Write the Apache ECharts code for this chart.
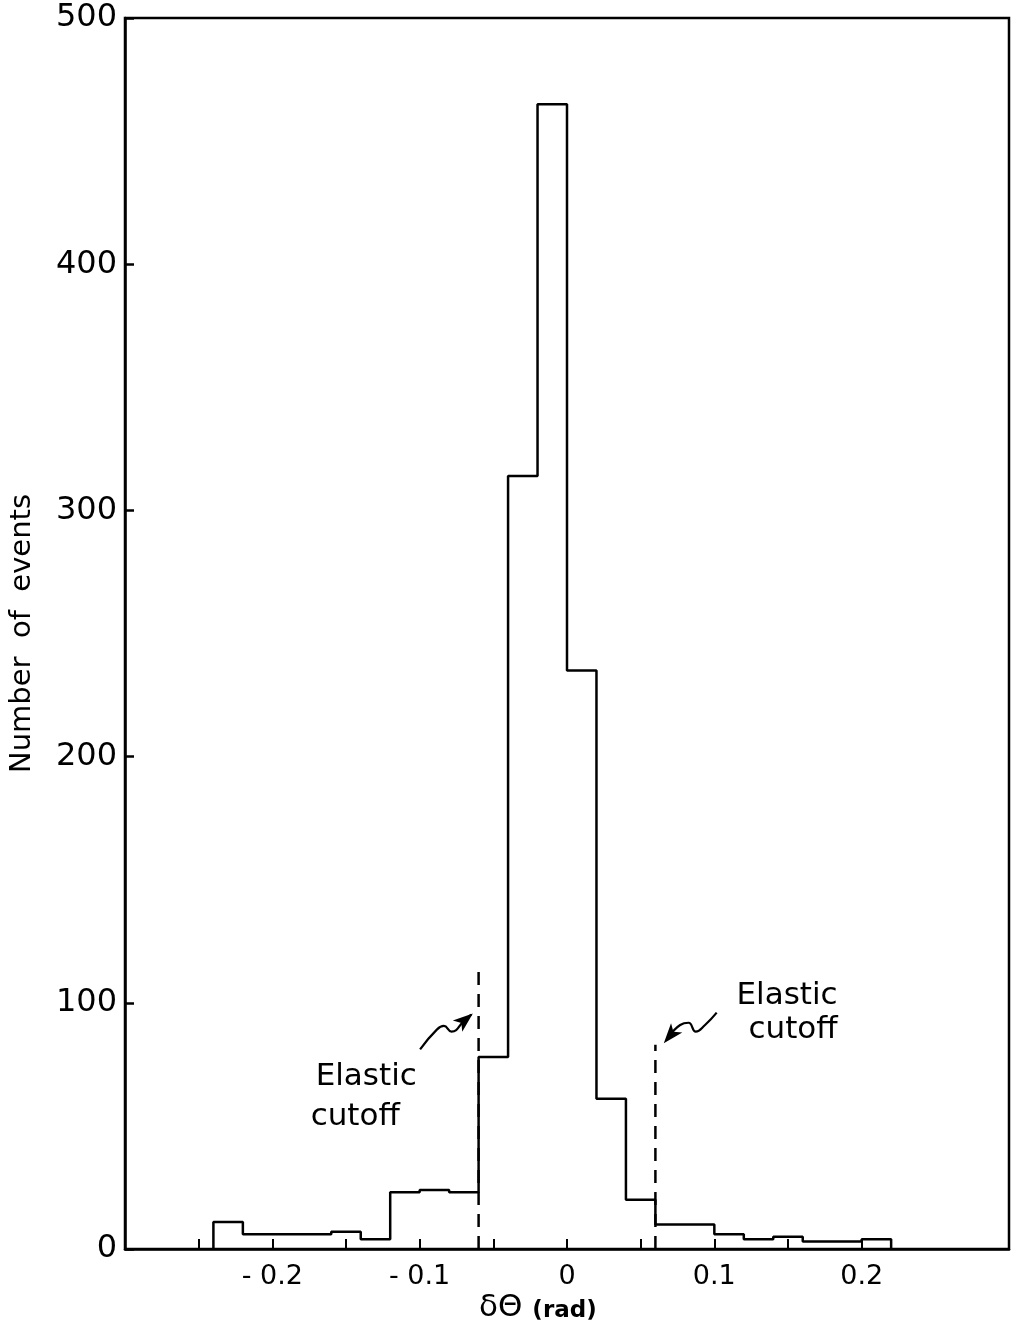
<!DOCTYPE html>
<html>
<head>
<meta charset="utf-8">
<script src="https://cdn.jsdelivr.net/npm/echarts@6/dist/echarts.min.js"></script>
<style>
html,body{margin:0;padding:0;background:#fff;}
#chart{width:1011px;height:1326px;}
</style>
</head>
<body>
<div id="chart"></div>
<script>
// Histogram bin edges (rad) and counts per bin
var binEdges = [-0.24,-0.22,-0.20,-0.18,-0.16,-0.14,-0.12,-0.10,-0.08,-0.06,-0.04,-0.02,0.00,0.02,0.04,0.06,0.08,0.10,0.12,0.14,0.16,0.18,0.20,0.22];
var counts   = [11,6,6,6,7,4,23,24,23,78,314,465,235,61,20,10,10,6,4,5,3,3,4];

// Axis ticks / labels
var xTickValues  = [-0.25,-0.2,-0.15,-0.1,-0.05,0,0.05,0.1,0.15,0.2];
var xLabelValues = [-0.2,-0.1,0,0.1,0.2];

// Elastic cutoff markers: [x, top of dashed line]
var cutoffLeft  = [-0.06, 114];
var cutoffRight = [0.06, 83];

// Annotation arrows (squiggles, in data units) and arrowheads [x, y, rotation]
var arrowLeftPath  = [[-0.0997,81.1],[-0.0885,89.0],[-0.0836,90.6],[-0.0784,88.3],[-0.0694,93.0],[-0.0650,95.2]];
var arrowRightPath = [[0.1016,96.0],[0.0937,91.0],[0.0874,88.3],[0.0825,91.9],[0.0768,91.0],[0.0690,86.0]];
var arrowHeads = [[-0.0639,95.7,-50],[0.0657,83.6,140]];

// Annotation texts
var annotTexts = [
  {text:'Elastic', x:-0.1706, y:69.9, align:'left'},
  {text:'cutoff',  x:-0.1740, y:53.6, align:'left'},
  {text:'Elastic', x:0.1837,  y:102.8, align:'right'},
  {text:'cutoff',  x:0.1837,  y:88.8, align:'right'}
];

// Build step outline from bins
var steps = [[binEdges[0], 0]];
for (var i = 0; i < counts.length; i++) {
  steps.push([binEdges[i], counts[i]]);
  steps.push([binEdges[i+1], counts[i]]);
}
steps.push([binEdges[binEdges.length-1], 0]);

var FONT = '"DejaVu Sans", sans-serif';
var chart = echarts.init(document.getElementById('chart'));
var lineBlack = {color:'#000', width:2.5};

chart.setOption({
  animation: false,
  backgroundColor: '#fff',
  title: {
    text: '{a|δΘ}  {b|(rad)}',
    left: 474, top: 1287,
    textStyle: {
      rich: {
        a: {fontSize: 31, fontFamily: FONT, fontWeight:'normal', color:'#000'},
        b: {fontSize: 23, fontFamily: FONT, fontWeight:'bold', color:'#000', padding:[8,0,0,0]}
      }
    }
  },
  grid: {left: 120, right: 2, top: 18, bottom: 77, show: true, borderColor: '#000', borderWidth: 2.5},
  xAxis: {
    type: 'value', min: -0.3, max: 0.3, interval: 0.05,
    axisLine: {show: true, onZero: false, lineStyle: lineBlack},
    axisTick: {show: true, inside: true, length: 10, customValues: xTickValues, lineStyle: {color:'#000', width:2}},
    axisLabel: {
      customValues: xLabelValues, fontSize: 27, fontFamily: FONT, color: '#000', margin: 14,
      formatter: function(v){ if (Math.abs(v) < 1e-9) return '0'; return (v < 0 ? '- ' : '') + Math.abs(v).toFixed(1); }
    },
    splitLine: {show: false}
  },
  yAxis: {
    type: 'value', min: 0, max: 500, interval: 100,
    name: 'Number  of  events', nameLocation: 'middle', nameGap: 88,
    nameTextStyle: {fontSize: 29, fontFamily: FONT, color: '#000'},
    axisLine: {show: true, onZero: false, lineStyle: lineBlack},
    axisTick: {show: true, inside: true, length: 9, lineStyle: {color:'#000', width:2.5}},
    axisLabel: {fontSize: 32, fontFamily: FONT, color: '#000', margin: 8},
    splitLine: {show: false}
  },
  series: [
    {type:'line', data: steps, symbol:'none', lineStyle: lineBlack, z: 5},
    {type:'line', data: [[cutoffLeft[0],0],[cutoffLeft[0],cutoffLeft[1]]], symbol:'none',
     lineStyle: {color:'#000', width:2.5, type:[13,9]}, z: 6},
    {type:'line', data: [[cutoffRight[0],0],[cutoffRight[0],cutoffRight[1]]], symbol:'none',
     lineStyle: {color:'#000', width:2.5, type:[13,9]}, z: 6},
    {type:'line', data: arrowLeftPath, smooth: true, symbol:'none', lineStyle: {color:'#000', width:2.2}},
    {type:'line', data: arrowRightPath, smooth: true, symbol:'none', lineStyle: {color:'#000', width:2.2}},
    {type:'scatter', symbol:'arrow', symbolSize:[11,20],
     data: arrowHeads.map(function(a){ return {value:[a[0],a[1]], symbolRotate:a[2]}; }),
     itemStyle: {color:'#000', opacity:1}},
    {type:'scatter', symbolSize: 0, itemStyle:{opacity:1, color:'#000'},
     data: annotTexts.map(function(t){
       return {value:[t.x,t.y], name:t.text,
         label:{show:true, position:'inside', align:t.align, formatter:t.text,
                fontSize:31, fontFamily:FONT, color:'#000', opacity:1}};
     })}
  ]
});
</script>
</body>
</html>
